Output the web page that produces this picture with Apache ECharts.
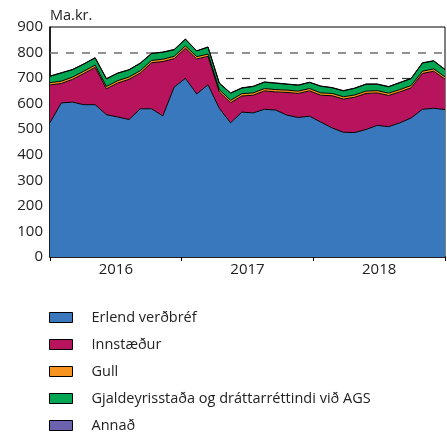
<!DOCTYPE html>
<html>
<head>
<meta charset="utf-8">
<script src="https://cdn.jsdelivr.net/npm/echarts@6/dist/echarts.min.js"></script>
<style>
  html, body { margin: 0; padding: 0; background: #fff; }
  #chart { width: 447px; height: 434px; }
</style>
</head>
<body>
<div id="chart"></div>
<script>
// ár á x-ás
const years = ['2016', '2017', '2018']
// mánuðir (jan 2016 - des 2018)
const months = []
years.forEach(y => { for (let m = 1; m <= 12; m++) months.push(y + '-' + (m < 10 ? '0' + m : m)) })
// mánaðarleg gildi, ma.kr.
const erlendVerdbref = [526, 603, 606, 596, 596, 557, 548, 538, 580, 580, 552, 665, 699, 638, 674, 582, 525, 567,
  564, 578, 575, 555, 546, 551, 528, 505, 488, 487, 499, 515, 510, 525, 544, 578, 582, 577]
const innstaedur = [147, 76, 89, 122, 146, 101, 133, 157, 140, 180, 213, 111, 118, 137, 111, 64, 79, 63,
  69, 72, 71, 89, 94, 99, 105, 126, 130, 138, 141, 127, 122, 121, 118, 140, 145, 119]
const gull = [9, 9, 9, 9, 9, 9, 9, 9, 9, 9, 9, 9, 9, 9, 9, 9, 9, 9,
  9, 9, 9, 9, 9, 9, 9, 9, 9, 9, 9, 9, 9, 9, 9, 9, 9, 9]
const gjaldeyrisstada = [25, 32, 29, 28, 28, 30, 29, 28, 29, 27, 27, 26, 26, 22, 27, 25, 28, 22,
  25, 25, 25, 23, 23, 24, 26, 22, 23, 26, 27, 25, 25, 27, 27, 32, 31, 28]
const annad = [1, 1, 1, 1, 1, 1, 1, 1, 1, 1, 1, 1, 1, 1, 1, 1, 1, 1,
  1, 1, 1, 1, 1, 1, 1, 1, 1, 1, 1, 1, 1, 1, 1, 1, 1, 1]
const yTicks = [0, 100, 200, 300, 400, 500, 600, 700, 800, 900]
// viðmiðunarlínur (brotalínur)
const refLines = [700, 800]

const FONT = 'Open Sans'

const chart = echarts.init(document.getElementById('chart'), null, { renderer: 'canvas' })

function makeSeries(name, values, color) {
  return {
    name: name,
    type: 'line',
    stack: 'total',
    xAxisIndex: 1,
    symbol: 'none',
    data: values,
    itemStyle: { color: color },
    lineStyle: { color: '#000', width: 1 },
    areaStyle: { color: color, opacity: 1 },
    emphasis: { disabled: true },
    z: 2,
  }
}

const series = [
  makeSeries('Erlend verðbréf', erlendVerdbref, '#3a78bd'),
  makeSeries('Innstæður', innstaedur, '#b8145e'),
  makeSeries('Gull', gull, '#f7941d'),
  makeSeries('Gjaldeyrisstaða og dráttarréttindi við AGS', gjaldeyrisstada, '#00a651'),
  makeSeries('Annað', annad, '#6b63ad'),
]

// brotalínurnar liggja undir svæðunum
series[0].markLine = {
  silent: true,
  symbol: 'none',
  z: 1,
  label: { show: false },
  data: [
    { yAxis: refLines[0], lineStyle: { color: '#333', width: 1.2, type: [8, 8] } },
    { yAxis: refLines[1], lineStyle: { color: '#777', width: 1.6, type: [8, 8] } },
  ],
}

chart.setOption({
  animation: false,
  title: {
    text: 'Ma.kr.',
    left: 50,
    top: 8,
    padding: 0,
    textStyle: { fontFamily: FONT, fontSize: 14.5, fontWeight: 'normal', color: '#222' },
  },
  grid: {
    left: 50,
    right: 2,
    top: 27,
    bottom: 177,
    show: true,
    borderColor: '#000',
    borderWidth: 1,
  },
  xAxis: [
    {
      type: 'category',
      data: years,
      boundaryGap: true,
      axisLine: { lineStyle: { color: '#000', width: 1.5 } },
      axisTick: { show: true, length: 4, lineStyle: { color: '#000' } },
      axisLabel: { fontFamily: FONT, fontSize: 15, color: '#222', margin: 5 },
      splitLine: { show: false },
    },
    {
      type: 'category',
      data: months,
      boundaryGap: false,
      show: false,
      splitLine: { show: false },
    },
  ],
  yAxis: {
    type: 'value',
    min: yTicks[0],
    max: yTicks[yTicks.length - 1],
    interval: 100,
    axisLine: { show: true, lineStyle: { color: '#000', width: 1.5 } },
    axisTick: { show: false },
    axisLabel: { fontFamily: FONT, fontSize: 15, color: '#222', margin: 7 },
    splitLine: { show: false },
  },
  legend: {
    orient: 'vertical',
    left: 49,
    top: 310,
    padding: 0,
    icon: 'rect',
    itemWidth: 23,
    itemHeight: 10,
    itemGap: 12,
    selectedMode: false,
    itemStyle: { borderColor: '#000', borderWidth: 1 },
    textStyle: { fontFamily: FONT, fontSize: 14.5, color: '#222', padding: [0, 0, 0, 14] },
    data: series.map(s => s.name),
  },
  series: series,
})
</script>
</body>
</html>
